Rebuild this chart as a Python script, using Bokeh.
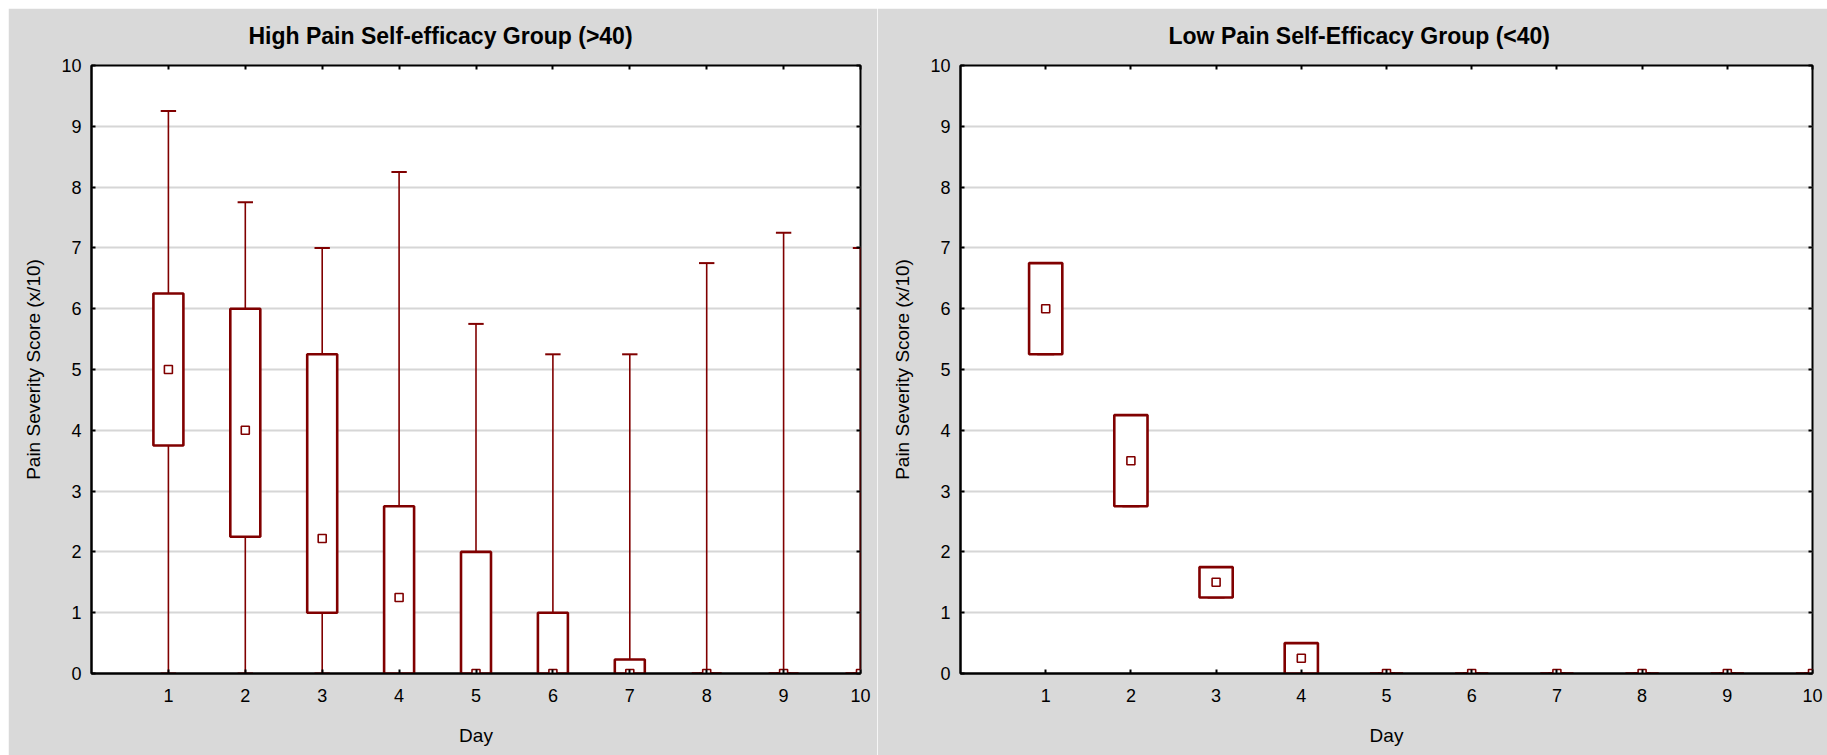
from bokeh.plotting import figure
from bokeh.layouts import row
from bokeh.models import FixedTicker, LinearAxis, CustomJSTickFormatter, Range1d
from bokeh.embed import file_html
from bokeh.resources import INLINE
import numpy as np

# ---------------- data ----------------
days = [1, 2, 3, 4, 5, 6, 7, 8, 9, 10]

high_min = [0, 0, 0, 0, 0, 0, 0, 0, 0, 0]
high_q1 = [3.75, 2.25, 1.0, 0, 0, 0, 0, 0, 0, 0]
high_med = [5.0, 4.0, 2.22, 1.25, 0, 0, 0, 0, 0, 0]
high_q3 = [6.25, 6.0, 5.25, 2.75, 2.0, 1.0, 0.23, 0, 0, 0]
high_max = [9.25, 7.75, 7.0, 8.25, 5.75, 5.25, 5.25, 6.75, 7.25, 7.0]

low_min = [5.25, 2.75, 1.25, 0, 0, 0, 0, 0, 0, 0]
low_q1 = [5.25, 2.75, 1.25, 0, 0, 0, 0, 0, 0, 0]
low_med = [6.0, 3.5, 1.5, 0.25, 0, 0, 0, 0, 0, 0]
low_q3 = [6.75, 4.25, 1.75, 0.5, 0, 0, 0, 0, 0, 0]
low_max = [6.75, 4.25, 1.75, 0.5, 0, 0, 0, 0, 0, 0]

y_ticks = [0, 1, 2, 3, 4, 5, 6, 7, 8, 9, 10]
title_high = "High Pain Self-efficacy Group (>40)"
title_low = "Low Pain Self-Efficacy Group (<40)"
x_label = "Day"
y_label = "Pain Severity Score (x/10)"

# ---------------- style ----------------
RED = "#800000"
BG = "#d9d9d9"
FONT = "Liberation Sans"
BOX_W = 0.39
CAP_HALF = 0.1


def make_panel(title, mins, q1, med, q3, maxs, width, bl, br, title_offset):
    p = figure(width=width, height=747, output_backend="svg", toolbar_location=None,
               x_range=Range1d(0, 10), y_range=Range1d(0, 10),
               min_border_left=bl, min_border_right=br,
               min_border_top=57, min_border_bottom=82)
    p.border_fill_color = BG
    p.background_fill_color = "white"
    p.outline_line_color = "black"
    p.outline_line_width = 2

    p.title.text = title
    p.title.text_font = FONT
    p.title.text_font_size = "23px"
    p.title.text_font_style = "bold"
    p.title.text_color = "black"
    p.title.align = "left"
    p.title.vertical_align = "top"
    p.title.offset = title_offset
    p.title.standoff = 29

    d = np.array(days, dtype=float)
    # whiskers
    p.segment(x0=d, y0=q3, x1=d, y1=maxs, line_color=RED, line_width=1.6)
    p.segment(x0=d, y0=q1, x1=d, y1=mins, line_color=RED, line_width=1.6)
    # caps
    p.segment(x0=d - CAP_HALF, y0=maxs, x1=d + CAP_HALF, y1=maxs, line_color=RED, line_width=2)
    p.segment(x0=d - CAP_HALF, y0=mins, x1=d + CAP_HALF, y1=mins, line_color=RED, line_width=2)
    # boxes
    p.vbar(x=d, width=BOX_W, bottom=q1, top=q3, fill_color="white",
           line_color=RED, line_width=2.6)
    # medians
    p.scatter(x=d, y=med, marker="square", size=8, fill_color="white",
              line_color=RED, line_width=1.6)

    # axes
    xa = p.xaxis[0]
    ya = p.yaxis[0]
    xa.ticker = FixedTicker(ticks=days)
    ya.ticker = FixedTicker(ticks=y_ticks)
    for ax in (xa, ya):
        ax.axis_line_color = "black"
        ax.axis_line_width = 2
        ax.major_tick_in = 4
        ax.major_tick_out = 0
        ax.major_tick_line_color = "black"
        ax.major_tick_line_width = 2
        ax.minor_tick_line_color = None
        ax.major_label_text_font = FONT
        ax.major_label_text_font_size = "18px"
        ax.major_label_text_color = "black"
        ax.axis_label_text_font = FONT
        ax.axis_label_text_font_size = "19px"
        ax.axis_label_text_font_style = "normal"
        ax.axis_label_text_color = "black"
    xa.major_label_standoff = 15
    ya.major_label_standoff = 10
    xa.axis_label = x_label
    ya.axis_label = y_label
    xa.axis_label_standoff = 20
    ya.axis_label_standoff = 14

    blank = CustomJSTickFormatter(code="return ''")
    top = LinearAxis(ticker=FixedTicker(ticks=days), formatter=blank)
    right = LinearAxis(ticker=FixedTicker(ticks=y_ticks), formatter=blank)
    for ax in (top, right):
        ax.axis_line_color = None
        ax.major_tick_in = 4
        ax.major_tick_out = 0
        ax.major_tick_line_color = "black"
        ax.major_tick_line_width = 2
        ax.minor_tick_line_color = None
        ax.major_label_standoff = 0
        ax.major_label_text_font_size = "1px"
    p.add_layout(top, "above")
    p.add_layout(right, "right")

    p.xgrid.grid_line_color = None
    p.ygrid.ticker = FixedTicker(ticks=y_ticks)
    p.ygrid.grid_line_color = "#d6d6d6"
    p.ygrid.grid_line_width = 2
    return p


p1 = make_panel(title_high, high_min, high_q1, high_med, high_q3, high_max,
                width=869, bl=83, br=17, title_offset=157)
p2 = make_panel(title_low, low_min, low_q1, low_med, low_q3, low_max,
                width=950, bl=83, br=15, title_offset=208)

layout = row(p1, p2, spacing=0, margin=(8, 0, 0, 8))
open("out.html", "w").write(file_html(layout, INLINE))
